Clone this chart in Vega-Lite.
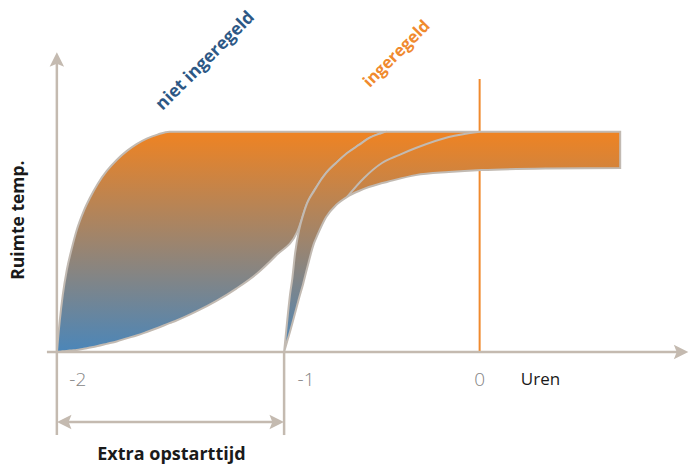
{
  "$schema": "https://vega.github.io/schema/vega-lite/v6.json",
  "width": 689,
  "height": 465,
  "padding": 0,
  "autosize": {"type": "fit", "contains": "padding"},
  "background": "white",
  "config": {"view": {"stroke": null}},
  "datasets": {
    "band1": [
      {"h": -2.000, "t": 0.000, "b": 0.000},
      {"h": -1.986, "t": 0.145, "b": 0.001},
      {"h": -1.972, "t": 0.259, "b": 0.003},
      {"h": -1.953, "t": 0.372, "b": 0.005},
      {"h": -1.929, "t": 0.472, "b": 0.007},
      {"h": -1.906, "t": 0.554, "b": 0.009},
      {"h": -1.873, "t": 0.640, "b": 0.015},
      {"h": -1.844, "t": 0.699, "b": 0.020},
      {"h": -1.807, "t": 0.763, "b": 0.027},
      {"h": -1.764, "t": 0.822, "b": 0.037},
      {"h": -1.717, "t": 0.872, "b": 0.048},
      {"h": -1.670, "t": 0.912, "b": 0.062},
      {"h": -1.623, "t": 0.944, "b": 0.075},
      {"h": -1.575, "t": 0.969, "b": 0.091},
      {"h": -1.524, "t": 0.987, "b": 0.109},
      {"h": -1.467, "t": 1.000, "b": 0.131},
      {"h": -1.434, "t": 1.000, "b": 0.143},
      {"h": -1.340, "t": 1.000, "b": 0.184},
      {"h": -1.245, "t": 1.000, "b": 0.232},
      {"h": -1.151, "t": 1.000, "b": 0.288},
      {"h": -1.057, "t": 1.000, "b": 0.353},
      {"h": -0.962, "t": 1.000, "b": 0.439},
      {"h": -0.863, "t": 1.000, "b": 0.545},
      {"h": -0.816, "t": 1.000, "b": 0.676},
      {"h": -0.769, "t": 1.000, "b": 0.754},
      {"h": -0.726, "t": 1.000, "b": 0.813},
      {"h": -0.675, "t": 1.000, "b": 0.862},
      {"h": -0.618, "t": 1.000, "b": 0.908},
      {"h": -0.571, "t": 1.000, "b": 0.940},
      {"h": -0.524, "t": 1.000, "b": 0.971},
      {"h": -0.476, "t": 1.000, "b": 0.990},
      {"h": -0.439, "t": 1.000, "b": 1.000}
    ],
    "band2": [
      {"h": -0.925, "t": 0.000, "b": 0.000},
      {"h": -0.910, "t": 0.145, "b": 0.050},
      {"h": -0.896, "t": 0.268, "b": 0.095},
      {"h": -0.887, "t": 0.327, "b": 0.127},
      {"h": -0.873, "t": 0.449, "b": 0.177},
      {"h": -0.854, "t": 0.554, "b": 0.245},
      {"h": -0.835, "t": 0.622, "b": 0.309},
      {"h": -0.816, "t": 0.676, "b": 0.381},
      {"h": -0.783, "t": 0.731, "b": 0.495},
      {"h": -0.769, "t": 0.754, "b": 0.527},
      {"h": -0.726, "t": 0.813, "b": 0.613},
      {"h": -0.679, "t": 0.858, "b": 0.667},
      {"h": -0.627, "t": 0.903, "b": 0.704},
      {"h": -0.571, "t": 0.940, "b": 0.731},
      {"h": -0.524, "t": 0.971, "b": 0.749},
      {"h": -0.476, "t": 0.990, "b": 0.763},
      {"h": -0.439, "t": 1.000, "b": 0.772},
      {"h": -0.302, "t": 1.000, "b": 0.803},
      {"h": -0.146, "t": 1.000, "b": 0.817},
      {"h": 0.009, "t": 1.000, "b": 0.826},
      {"h": 0.325, "t": 1.000, "b": 0.833},
      {"h": 0.665, "t": 1.000, "b": 0.835}
    ],
    "curveD": [
      {"h": -0.627, "t": 0.704},
      {"h": -0.547, "t": 0.790},
      {"h": -0.462, "t": 0.858},
      {"h": -0.382, "t": 0.894},
      {"h": -0.302, "t": 0.926},
      {"h": -0.146, "t": 0.976},
      {"h": 0.000, "t": 1.000}
    ],
    "rules": [
      {"kind": "axis", "h": -2.000, "h2": -2.000, "t": 1.325, "t2": -0.377},
      {"kind": "axis", "h": -2.047, "h2": 0.943, "t": 0.000, "t2": 0.000},
      {"kind": "axis", "h": -0.925, "h2": -0.925, "t": 0.000, "t2": -0.377},
      {"kind": "axis", "h": -1.976, "h2": -0.948, "t": -0.318, "t2": -0.318},
      {"kind": "now", "h": 0.000, "h2": 0.000, "t": 0.000, "t2": 1.239}
    ],
    "arrows": [
      {"dir": "up", "h": -2.000, "t": 1.328},
      {"dir": "right", "h": 0.953, "t": 0.000},
      {"dir": "left", "h": -1.965, "t": -0.318},
      {"dir": "right", "h": -0.960, "t": -0.318}
    ],
    "labels": [
      {"kind": "tick", "label": "-2", "h": -1.901, "t": -0.127},
      {"kind": "tick", "label": "-1", "h": -0.821, "t": -0.127},
      {"kind": "tick", "label": "0", "h": 0.000, "t": -0.127},
      {"kind": "unit", "label": "Uren", "h": 0.288, "t": -0.127},
      {"kind": "title", "label": "Extra opstarttijd", "h": -1.458, "t": -0.468},
      {"kind": "ytitle", "label": "Ruimte temp.", "h": -2.181, "t": 0.599},
      {"kind": "niet", "label": "niet ingeregeld", "h": -1.297, "t": 1.321},
      {"kind": "inge", "label": "ingeregeld", "h": -0.392, "t": 1.353}
    ]
  },
  "encoding": {
    "x": {"field": "h", "type": "quantitative", "scale": {"domain": [-2.269, 0.981], "nice": false, "zero": false}, "axis": null},
    "y": {"field": "t", "type": "quantitative", "scale": {"domain": [-0.513, 1.598], "nice": false, "zero": false}, "axis": null}
  },
  "layer": [
    {
      "data": {"name": "rules"},
      "transform": [{"filter": "datum.kind === 'now'"}],
      "mark": {"type": "rule", "strokeWidth": 2, "color": "#F08A2E"},
      "encoding": {"x2": {"field": "h2"}, "y2": {"field": "t2"}}
    },
    {
      "data": {"name": "band1"},
      "mark": {"type": "area", "interpolate": "monotone", "stroke": "#C2BAB2", "strokeWidth": 2,
        "color": {"gradient": "linear", "x1": 0, "y1": 0, "x2": 0, "y2": 1,
          "stops": [{"offset": 0, "color": "#EF8322"}, {"offset": 1, "color": "#4B86B9"}]}},
      "encoding": {"y2": {"field": "b"}}
    },
    {
      "data": {"name": "band2"},
      "mark": {"type": "area", "interpolate": "monotone", "stroke": "#C2BAB2", "strokeWidth": 2,
        "color": {"gradient": "linear", "x1": 0, "y1": 0, "x2": 0, "y2": 1,
          "stops": [{"offset": 0, "color": "#EF8322"}, {"offset": 1, "color": "#4B86B9"}]}},
      "encoding": {"y2": {"field": "b"}}
    },
    {
      "data": {"name": "curveD"},
      "mark": {"type": "line", "interpolate": "monotone", "stroke": "#C2BAB2", "strokeWidth": 2},
      "encoding": {}
    },
    {
      "data": {"name": "rules"},
      "transform": [{"filter": "datum.kind === 'axis'"}],
      "mark": {"type": "rule", "strokeWidth": 2.5, "color": "#C4BAB0"},
      "encoding": {"x2": {"field": "h2"}, "y2": {"field": "t2"}}
    },
    {
      "data": {"name": "arrows"},
      "mark": {"type": "point", "filled": true, "color": "#C4BAB0", "size": 210, "opacity": 1},
      "encoding": {
        "shape": {"field": "dir", "type": "nominal", "legend": null,
          "scale": {"domain": ["up", "right", "left"], "range": ["M0,-1L1,1L0,0.6L-1,1Z", "M1,0L-1,-1L-0.6,0L-1,1Z", "M-1,0L1,-1L0.6,0L1,1Z"]}}
      }
    },
    {
      "data": {"name": "labels"},
      "transform": [{"filter": "datum.kind === 'tick'"}],
      "mark": {"type": "text", "font": "Open Sans", "fontSize": 19, "fontWeight": 300, "color": "#858585", "align": "center", "baseline": "middle"},
      "encoding": {"text": {"field": "label"}}
    },
    {
      "data": {"name": "labels"},
      "transform": [{"filter": "datum.kind === 'unit'"}],
      "mark": {"type": "text", "font": "Open Sans", "fontSize": 17, "color": "#1A1A1A", "align": "center", "baseline": "middle"},
      "encoding": {"text": {"field": "label"}}
    },
    {
      "data": {"name": "labels"},
      "transform": [{"filter": "datum.kind === 'title'"}],
      "mark": {"type": "text", "font": "Open Sans", "fontSize": 18, "fontWeight": "bold", "color": "#1A1A1A", "align": "center", "baseline": "middle"},
      "encoding": {"text": {"field": "label"}}
    },
    {
      "data": {"name": "labels"},
      "transform": [{"filter": "datum.kind === 'ytitle'"}],
      "mark": {"type": "text", "font": "Open Sans", "fontSize": 17.5, "fontWeight": "bold", "color": "#1A1A1A", "align": "center", "baseline": "middle", "angle": 270},
      "encoding": {"text": {"field": "label"}}
    },
    {
      "data": {"name": "labels"},
      "transform": [{"filter": "datum.kind === 'niet'"}],
      "mark": {"type": "text", "font": "Open Sans", "fontSize": 17.5, "fontWeight": "bold", "color": "#2D5885", "align": "center", "baseline": "middle", "angle": 315},
      "encoding": {"text": {"field": "label"}}
    },
    {
      "data": {"name": "labels"},
      "transform": [{"filter": "datum.kind === 'inge'"}],
      "mark": {"type": "text", "font": "Open Sans", "fontSize": 16.5, "fontWeight": "bold", "color": "#F08A2E", "align": "center", "baseline": "middle", "angle": 315},
      "encoding": {"text": {"field": "label"}}
    }
  ]
}
